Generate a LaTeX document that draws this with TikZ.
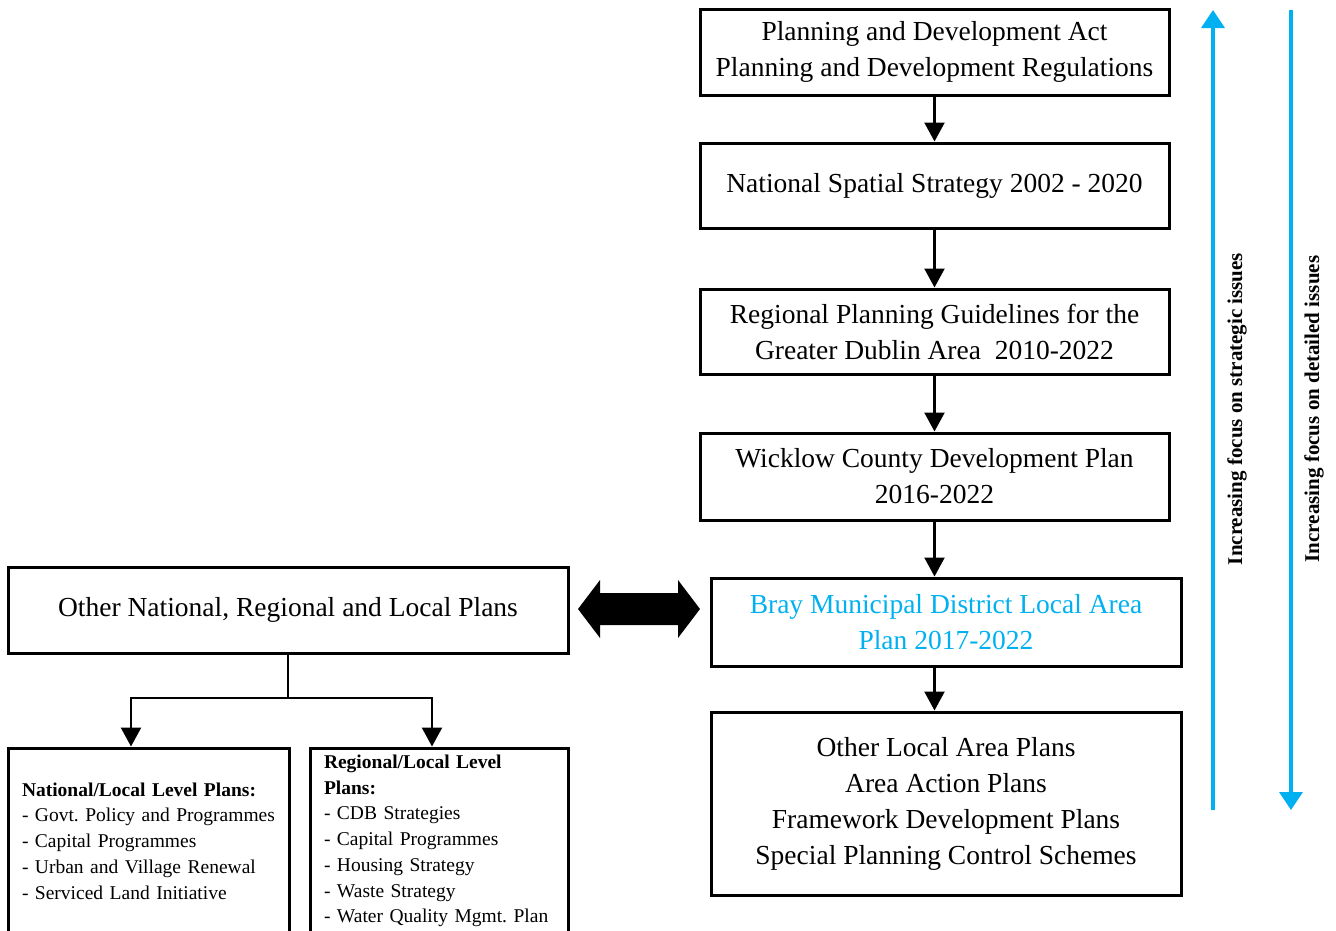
\documentclass[tikz,border=0pt]{standalone}
\usepackage{fontspec}
\setmainfont{Liberation Serif}
\usepackage{xcolor}
\usepackage{tikz}
\usetikzlibrary{arrows.meta,positioning}
\definecolor{focusblue}{RGB}{0,176,240}
\frenchspacing

\begin{document}
\begin{tikzpicture}[
  x=1pt, y=-1pt,
  plan/.style={draw, line width=3pt, align=center, inner sep=4pt, font=\fontsize{27.5}{36}\selectfont},
  sub/.style={draw, line width=3pt, align=left, inner xsep=14pt, minimum height=186pt, font=\fontsize{19.5}{25.7}\selectfont},
  conn/.style={line width=2.4pt, -{Triangle[length=19pt,width=20pt]}},
  focus/.style={draw=focusblue, line width=3.5pt, -{Triangle[length=18pt,width=23pt]}},
  lab/.style={rotate=90, font=\fontsize{21}{24}\selectfont\bfseries}
]
\useasboundingbox (0,0) rectangle (1336,930);
\clip (0,0) rectangle (1336,930);

% hierarchy of plans
\node[plan, minimum width=469pt, minimum height=86pt] (act) at (934.5,52)
  {Planning and Development Act\\Planning and Development Regulations};
\node[plan, minimum width=469pt, minimum height=85pt] (nss) at (934.5,185.5)
  {National Spatial Strategy 2002 - 2020};
\node[plan, minimum width=469pt, minimum height=85pt] (rpg) at (934.5,331.5)
  {Regional Planning Guidelines for the\\Greater Dublin Area\ \ 2010-2022};
\node[plan, minimum width=469pt, minimum height=87pt] (wcdp) at (934.5,476.5)
  {Wicklow County Development Plan\\2016-2022};
\node[plan, minimum width=470pt, minimum height=88pt, text=focusblue] (bray) at (946,622)
  {Bray Municipal District Local Area\\Plan 2017-2022};
\node[plan, minimum width=470pt, minimum height=183pt] (olap) at (946,803.5)
  {Other Local Area Plans\\Area Action Plans\\Framework Development Plans\\Special Planning Control Schemes};

\node[plan, minimum width=560pt, minimum height=86pt] (other) at (288,610)
  {Other National, Regional and Local Plans};
\node[sub, text width=253pt] (natl) at (148.5,841)
  {\textbf{National/Local Level Plans:}\\- Govt. Policy and Programmes\\- Capital Programmes\\- Urban and Village Renewal\\- Serviced Land Initiative};
\node[sub, text width=230pt] (reg) at (439,841)
  {\textbf{Regional/Local Level}\\\textbf{Plans:}\\- CDB Strategies\\- Capital Programmes\\- Housing Strategy\\- Waste Strategy\\- Water Quality Mgmt. Plan};

\draw[conn] (act) -- (nss);
\draw[conn] (nss) -- (rpg);
\draw[conn] (rpg) -- (wcdp);
\draw[conn] (wcdp.south) -- (wcdp.south |- bray.north);
\draw[conn] (bray.south -| wcdp.south) -- (olap.north -| wcdp.south);

\coordinate (fork) at (288,698);
\coordinate (forkA) at (131,698);
\coordinate (forkB) at (432,698);
\draw[conn] (other.south) |- (forkA) -- (forkA |- natl.north);
\draw[conn] (fork) -- (forkB) -- (forkB |- reg.north);

% double arrow between the two columns
\coordinate (dl) at (578,609);
\coordinate (dr) at (700,609);
\fill (dl) -- ++(22,-29) -- ++(0,13) -- ++(78,0) -- ++(0,-13) -- (dr)
  -- ++(-22,29) -- ++(0,-13) -- ++(-78,0) -- ++(0,13) -- cycle;

\coordinate (s0) at (1213,810);
\coordinate (s1) at (1213,10);
\draw[focus] (s0) -- (s1);
\node[lab] (strat) at (1237,409) {Increasing focus on strategic issues};
\coordinate (d0) at (1291,10);
\coordinate (d1) at (1291,810);
\draw[focus] (d0) -- (d1);
\node[lab] (det) at (1314,409) {Increasing focus on detailed issues};
\end{tikzpicture}
\end{document}
